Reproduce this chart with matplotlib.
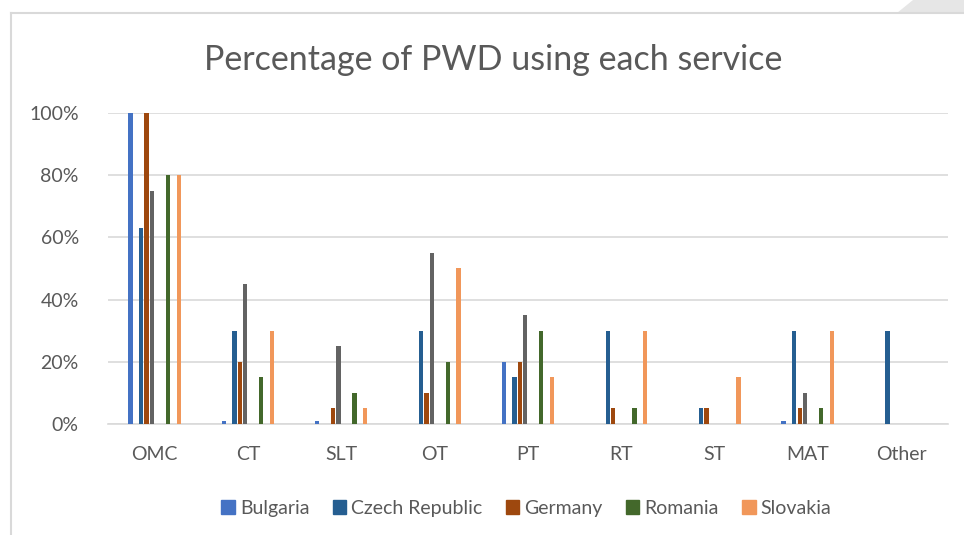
import numpy as np
import matplotlib
matplotlib.use('Agg')
import matplotlib.pyplot as plt
import matplotlib.patches as mpatches

plt.rcParams['font.family'] = ['Lato', 'DejaVu Sans']

# ── data ────────────────────────────────────────────────────────────────────
services = ['OMC', 'CT', 'SLT', 'OT', 'PT', 'RT', 'ST', 'MAT', 'Other']

bulgaria = [100, 1, 1, 0, 20, 0, 0, 1, 0]
czech = [63, 30, 0, 30, 15, 30, 5, 30, 30]
germany = [100, 20, 5, 10, 20, 5, 5, 5, 0]
unnamed = [75, 45, 25, 55, 35, 0, 0, 10, 0]   # grey series, no legend entry
romania = [80, 15, 10, 20, 30, 5, 0, 5, 0]
slovakia = [80, 30, 5, 50, 15, 30, 15, 30, 0]

series_names = ['Bulgaria', 'Czech Republic', 'Germany', None, 'Romania', 'Slovakia']
series_vals = [bulgaria, czech, germany, unnamed, romania, slovakia]

# ── style / layout ──────────────────────────────────────────────────────────
colors = ['#4472C4', '#255E91', '#9E480E', '#636363', '#43682B', '#F1975A']
slots = [0, 2, 3, 4, 7, 9]      # slot within 10-slot cluster (empty slots between)
n_slots = 10
slot_w = 0.0573
bar_w = 0.046
text_col = '#595959'

fig = plt.figure(figsize=(9.64, 5.35), dpi=100)
ax = fig.add_axes([0.112, 0.2075, 0.871, 0.5813])

x = np.arange(len(services))
for name, vals, col, s in zip(series_names, series_vals, colors, slots):
    off = (s - (n_slots - 1) / 2) * slot_w
    ax.bar(x + off, vals, bar_w, color=col, zorder=3,
           label=name if name else '_nolegend_')

ax.set_xlim(-0.5, len(services) - 0.5)
ax.set_ylim(0, 100)
ax.set_yticks(np.arange(0, 101, 20))
ax.set_yticklabels([f'{v}%' for v in range(0, 101, 20)])
ax.set_xticks(x)
ax.set_xticklabels(services)
ax.tick_params(axis='both', length=0, labelsize=14, colors=text_col)
ax.tick_params(axis='x', pad=16)
ax.tick_params(axis='y', pad=21)
ax.grid(axis='y', color='#D9D9D9', linewidth=1.2, zorder=0)
for sp in ['top', 'right', 'left']:
    ax.spines[sp].set_visible(False)
ax.spines['bottom'].set_color('#D9D9D9')
ax.spines['bottom'].set_linewidth(1.2)

fig.text(0.512, 0.888, 'Percentage of PWD using each service', ha='center',
         va='center', fontsize=24.5, color=text_col)

handles = [mpatches.Patch(color=c, label=n)
           for n, c in zip(series_names, colors) if n]
fig.legend(handles=handles, loc='center', bbox_to_anchor=(0.546, 0.05),
           ncol=5, frameon=False, fontsize=14, handlelength=0.7,
           handleheight=0.7, handletextpad=0.25, columnspacing=1.2,
           labelcolor=text_col)

# chart frame and page decoration
fig.patches.append(mpatches.Polygon(
    [(897 / 964, 1 - 13 / 535), (913 / 964, 1.0), (1.0, 1.0), (1.0, 1 - 13 / 535)],
    closed=True, transform=fig.transFigure, facecolor='#E6E6E6',
    edgecolor='none', zorder=0))
fig.add_artist(plt.Line2D([11 / 964, 11 / 964], [0, 1 - 13 / 535],
                          transform=fig.transFigure, color='#D9D9D9', lw=1.5))
fig.add_artist(plt.Line2D([11 / 964, 1], [1 - 13 / 535, 1 - 13 / 535],
                          transform=fig.transFigure, color='#D9D9D9', lw=1.5))

fig.savefig('out.png', dpi=100)
